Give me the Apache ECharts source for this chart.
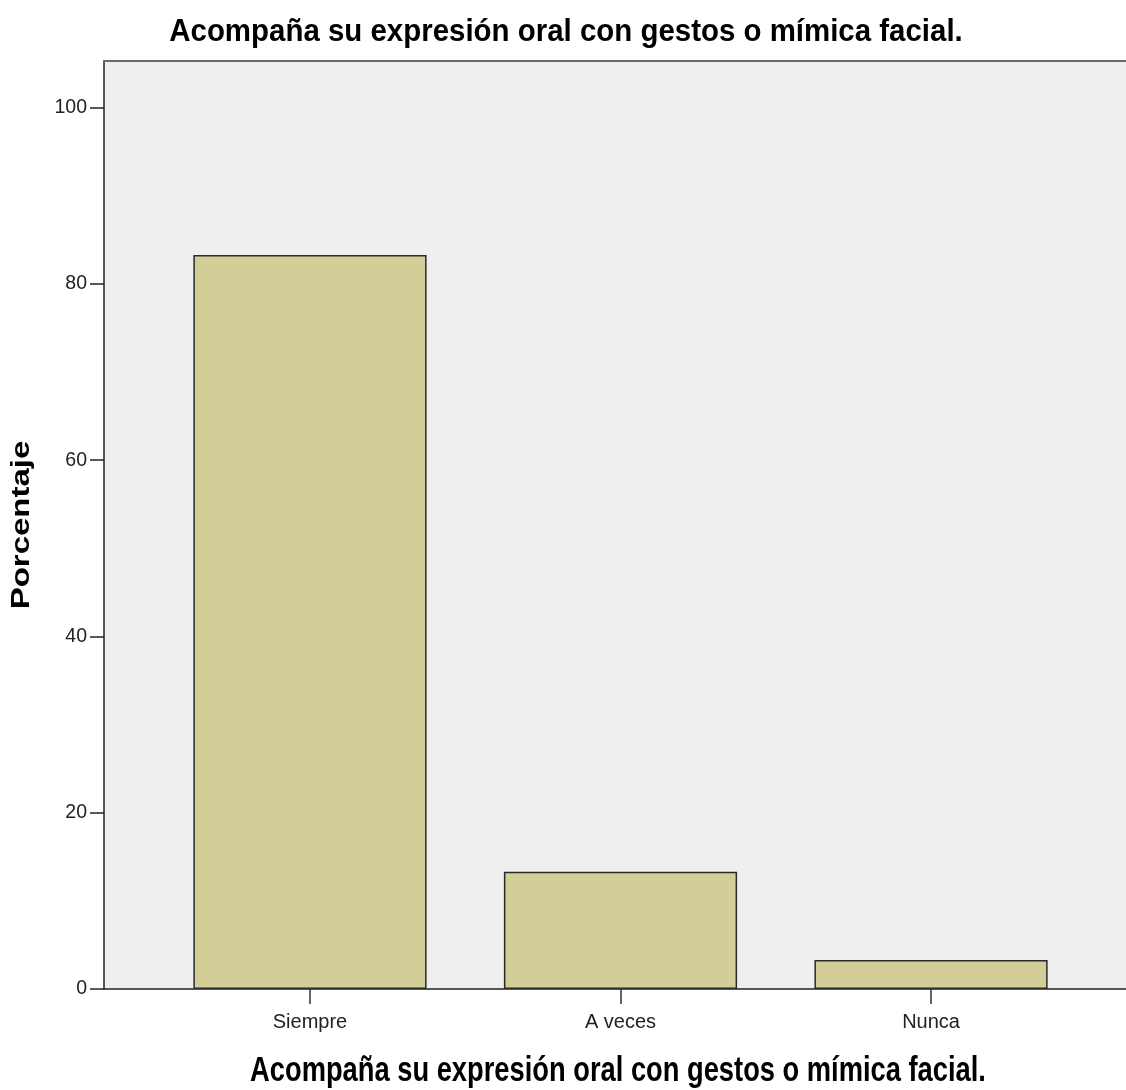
<!DOCTYPE html>
<html>
<head>
<meta charset="utf-8">
<script src="https://cdn.jsdelivr.net/npm/echarts@6/dist/echarts.min.js"></script>
<style>
html,body{margin:0;padding:0;background:#fff;}
#chart{width:1126px;height:1090px;}
</style>
</head>
<body>
<div id="chart"></div>
<script>
const titleText = 'Acompaña su expresión oral con gestos o mímica facial.';
const xAxisTitle = 'Acompaña su expresión oral con gestos o mímica facial.';
const yAxisTitle = 'Porcentaje';
const categories = ['Siempre', 'A veces', 'Nunca'];
const percentages = [83.3, 13.3, 3.3];
const yTicks = [0, 20, 40, 60, 80, 100];
const yMax = 105.3;

const chart = echarts.init(document.getElementById('chart'), null, {renderer: 'canvas'});
const sans = '"Liberation Sans", Arial, sans-serif';

chart.setOption({
  animation: false,
  backgroundColor: '#ffffff',
  graphic: [
    {
      type: 'text', x: 566, y: 32, scaleX: 0.92,
      style: {text: titleText, fontFamily: sans, fontWeight: 'bold', fontSize: 32,
        fill: '#000', align: 'center', verticalAlign: 'middle'}
    },
    {
      type: 'text', x: 618, y: 1071, scaleX: 0.78,
      style: {text: xAxisTitle, fontFamily: sans, fontWeight: 'bold', fontSize: 35,
        fill: '#000', align: 'center', verticalAlign: 'middle'}
    },
    {
      type: 'text', x: 22, y: 525, rotation: Math.PI / 2, scaleX: 1.32,
      style: {text: yAxisTitle, fontFamily: sans, fontWeight: 'bold', fontSize: 25,
        fill: '#000', align: 'center', verticalAlign: 'middle'}
    }
  ],
  grid: [
    {left: 104, top: 61, right: 0, bottom: 101, show: true, backgroundColor: '#efefef', borderWidth: 0},
    {left: 154.7, top: 61, right: 39.7, bottom: 101}
  ],
  xAxis: [
    {
      type: 'value', gridIndex: 0, min: 0, max: 1, position: 'bottom',
      axisLine: {show: true, lineStyle: {color: '#222', width: 1.5}},
      axisTick: {show: false}, axisLabel: {show: false}, splitLine: {show: false}
    },
    {
      type: 'value', gridIndex: 0, min: 0, max: 1, position: 'top',
      axisLine: {show: true, lineStyle: {color: '#6a6a6a', width: 2}},
      axisTick: {show: false}, axisLabel: {show: false}, splitLine: {show: false}
    },
    {
      type: 'category', gridIndex: 1, data: categories, position: 'bottom',
      axisLine: {show: false},
      axisTick: {show: true, alignWithLabel: true, length: 15, lineStyle: {color: '#333', width: 1.5}},
      axisLabel: {fontFamily: sans, fontSize: 20, color: '#222', margin: 23}
    }
  ],
  yAxis: [
    {
      type: 'value', gridIndex: 0, min: 0, max: yMax,
      axisLine: {show: true, lineStyle: {color: '#222', width: 1.5}},
      axisTick: {show: true, length: 14, customValues: yTicks, lineStyle: {color: '#222', width: 1.5}},
      axisLabel: {customValues: yTicks, fontFamily: sans, fontSize: 19.5, color: '#222', margin: 17},
      splitLine: {show: false}
    },
    {
      type: 'value', gridIndex: 1, min: 0, max: yMax, show: false, splitLine: {show: false}
    }
  ],
  series: [
    {
      type: 'bar', xAxisIndex: 2, yAxisIndex: 1, data: percentages, barWidth: '75.1%',
      itemStyle: {color: '#d3ce97', borderColor: '#2a2a2a', borderWidth: 1.5}
    }
  ]
});
</script>
</body>
</html>
